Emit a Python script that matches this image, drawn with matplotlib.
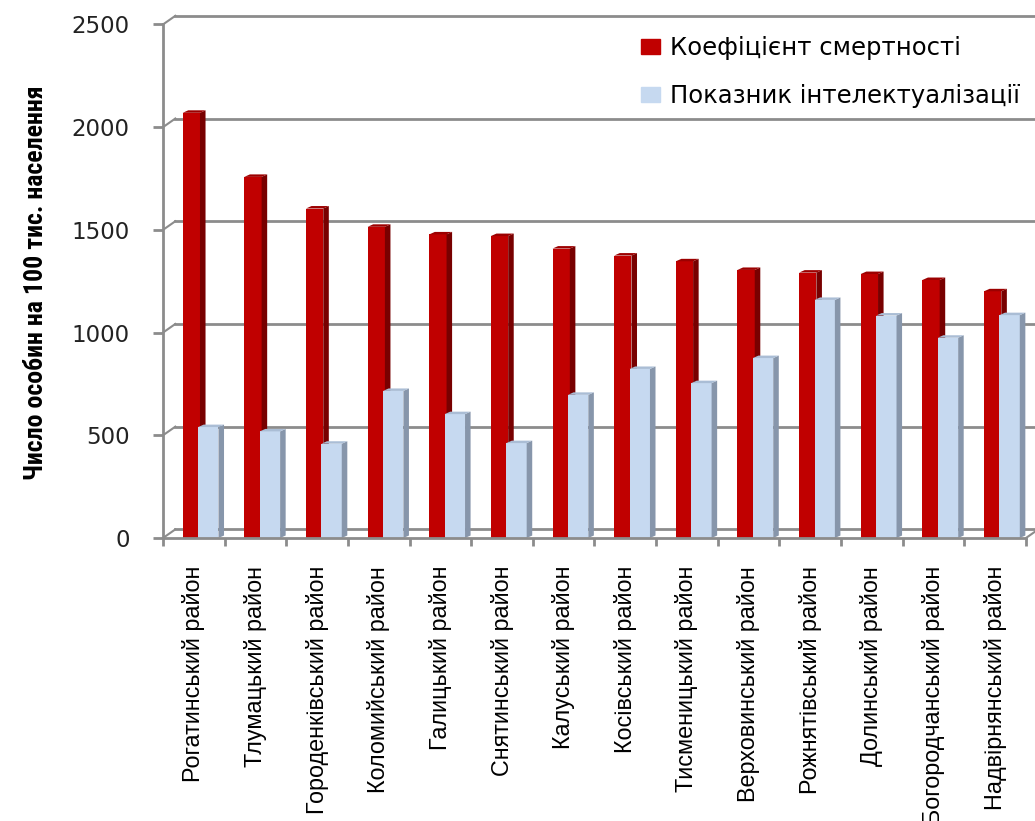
import matplotlib
matplotlib.use("Agg")
import matplotlib.pyplot as plt
from matplotlib.patches import Patch

districts = ["Рогатинський район", "Тлумацький район", "Городенківський район",
             "Коломийський район", "Галицький район", "Снятинський район",
             "Калуський район", "Косівський район", "Тисменицький район",
             "Верховинський район", "Рожнятівський район", "Долинський район",
             "Богородчанський район", "Надвірнянський район"]
mortality = [2070, 1758, 1604, 1515, 1478, 1470, 1409, 1375, 1347, 1305, 1292, 1285, 1256, 1201]
intellect = [540, 519, 459, 716, 603, 462, 697, 823, 754, 876, 1159, 1083, 975, 1085]
yticks = [0, 500, 1000, 1500, 2000, 2500]
label_mort = "Коефіцієнт смертності"
label_int = "Показник інтелектуалізації"
ylabel = "Число особин на 100 тис. населення"

GRID = "#8c8c8c"
RED, RED_SIDE, RED_TOP = "#c00000", "#780000", "#9c0000"
BLUE, BLUE_SIDE, BLUE_TOP = "#c6d9f0", "#8796ab", "#aabdd5"

fig = plt.figure(figsize=(10.35, 8.21), dpi=100)
ax = fig.add_axes([163 / 1035, (821 - 538) / 821, 1 - 163 / 1035, 538 / 821])
ax.set_xlim(0, 872 / 61.64)
ax.set_ylim(0, 2619)

# back wall offset (oblique 3d look)
wdx, wdy = 0.2, 42
xr = ax.get_xlim()[1]
for v in yticks:
    ax.plot([0, wdx], [v, v + wdy], color=GRID, lw=1.5, clip_on=False, zorder=1)
    ax.plot([wdx, xr], [v + wdy, v + wdy], color=GRID, lw=2, clip_on=False, zorder=1)
ax.plot([14, 14 + wdx], [0, wdy], color=GRID, lw=1.5, clip_on=False, zorder=1)


def bar3d(x0, w, h, front, side, top, z):
    dx, dy = 0.09, 12
    ax.bar(x0, h, w, align="edge", color=front, zorder=z, linewidth=0)
    ax.fill([x0 + w, x0 + w + dx, x0 + w + dx, x0 + w],
            [0, dy, h + dy, h], color=side, zorder=z, linewidth=0)
    ax.fill([x0, x0 + dx, x0 + w + dx, x0 + w],
            [h, h + dy, h + dy, h], color=top, zorder=z, linewidth=0)


for i in range(len(districts)):
    bar3d(i + 0.32, 0.28, mortality[i], RED, RED_SIDE, RED_TOP, 2 + i * 0.01)
    bar3d(i + 0.57, 0.33, intellect[i], BLUE, BLUE_SIDE, BLUE_TOP, 2.005 + i * 0.01)

for s in ["top", "right"]:
    ax.spines[s].set_visible(False)
ax.spines["left"].set_color(GRID)
ax.spines["left"].set_linewidth(2)
ax.spines["left"].set_bounds(0, 2500)
ax.spines["bottom"].set_color(GRID)
ax.spines["bottom"].set_linewidth(2)
ax.spines["bottom"].set_bounds(0, 14)

ax.set_yticks(yticks)
ax.set_yticklabels([str(v) for v in yticks])
ax.tick_params(axis="y", length=7, width=2, color=GRID, pad=17, labelsize=16.5,
               labelcolor="#222222")

ax.set_xticks([i + 0.5 for i in range(len(districts))])
ax.set_xticklabels(districts, rotation=90, va="top", ha="center",
                   family=["Liberation Sans", "DejaVu Sans"], fontsize=16.8)
ax.tick_params(axis="x", length=0, pad=20)
ax.set_xticks(range(len(districts) + 1), minor=True)
ax.tick_params(axis="x", which="minor", length=6, width=2, color=GRID)

# condensed bold label: shrink to the reference length (~395 px)
yl = fig.text(36 / 1035, 1 - 283 / 821, ylabel, rotation=90, ha="center", va="center",
              fontsize=17, fontweight="bold",
              family=["Liberation Sans Narrow", "DejaVu Sans Condensed", "Roboto Condensed",
                      "Liberation Sans"])
r = fig.canvas.get_renderer()
h = yl.get_window_extent(r).height
yl.set_fontsize(17 * 395 / h)

handles = [Patch(color=RED), Patch(color=BLUE)]
ax.legend(handles, [label_mort, label_int], loc="upper left",
          bbox_to_anchor=(641 / 1035, 1 - 36 / 821), bbox_transform=fig.transFigure,
          frameon=False, fontsize=17.5, borderpad=0, borderaxespad=0,
          handlelength=0.8, handleheight=0.6, handletextpad=0.4, labelspacing=1.0)

fig.savefig("out.png", dpi=100)
